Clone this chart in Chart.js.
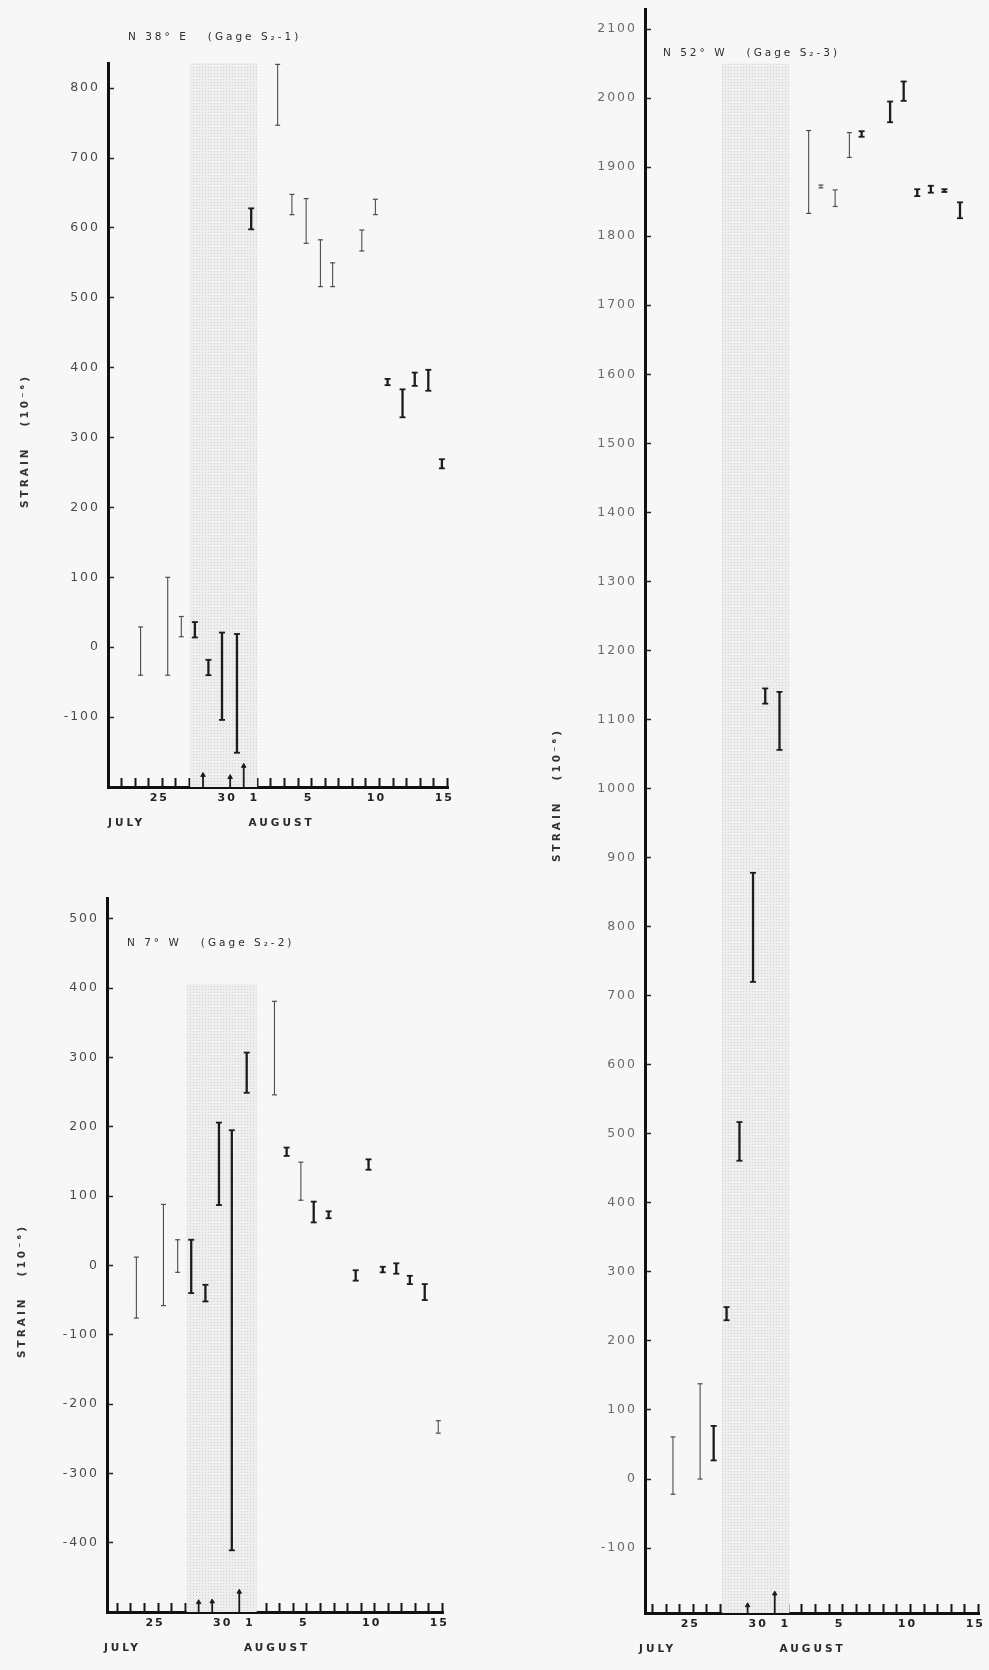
<!DOCTYPE html>
<html>
<head>
<meta charset="utf-8">
<script src="https://cdn.jsdelivr.net/npm/chart.js@4/dist/chart.umd.min.js"></script>
<style>
  html, body { margin: 0; padding: 0; background: #f7f7f7; }
  body { width: 989px; height: 1670px; position: relative; overflow: hidden; }
  canvas { position: absolute; }
</style>
</head>
<body>
<canvas id="g1" width="480" height="850" style="left:0;top:0"></canvas>
<canvas id="g2" width="480" height="820" style="left:0;top:850px"></canvas>
<canvas id="g3" width="469" height="1670" style="left:520px;top:0"></canvas>
<script>
// Days are counted from the start of July: 25 = July 25, 32 = August 1, 46 = August 15.
const dayTicks = [22, 23, 24, 25, 26, 27, 28, 29, 30, 31, 32, 33, 34, 35, 36, 37, 38, 39, 40, 41, 42, 43, 44, 45, 46];
const dayLabelAt = [25, 30, 32, 36, 41, 46];
const dayLabelText = ['25', '30', '1', '5', '10', '15'];
const monthNames = ['JULY', 'AUGUST'];
const monthStartDay = [21, 31.35];
const strainTitle = 'STRAIN   (10\u207B\u2076)';

// N 38° E (Gage S2-1): strain ranges, 10^-6
const g1ThinDay   = [23.4, 25.4, 26.4, 33.5, 34.55, 35.6, 36.65, 37.55, 39.7, 40.7];
const g1ThinLow   = [-40, -40, 15, 747, 619, 578, 516, 516, 567, 619];
const g1ThinHigh  = [29, 100, 44, 834, 648, 642, 583, 550, 597, 641];
const g1HeavyDay  = [27.4, 28.4, 29.4, 30.5, 31.55, 41.6, 42.7, 43.6, 44.6, 45.6];
const g1HeavyLow  = [14, -40, -104, -151, 598, 375, 329, 374, 367, 256];
const g1HeavyHigh = [36, -18, 21, 19, 628, 384, 369, 393, 397, 269];
const g1MarkDay   = [28, 30, 31];
const g1MarkTip   = [-183, -186, -170];
const g1YTicks    = [-100, 0, 100, 200, 300, 400, 500, 600, 700, 800];

// N 7° W (Gage S2-2)
const g2ThinDay   = [23.4, 25.4, 26.45, 33.6, 35.55, 45.7];
const g2ThinLow   = [-76, -58, -10, 246, 94, -242];
const g2ThinHigh  = [12, 88, 37, 381, 149, -224];
const g2HeavyDay  = [27.45, 28.5, 29.5, 30.45, 31.55, 34.5, 36.5, 37.6, 39.6, 40.55, 41.6, 42.6, 43.6, 44.7];
const g2HeavyLow  = [-40, -52, 87, -411, 249, 158, 62, 68, -22, 138, -10, -12, -27, -50];
const g2HeavyHigh = [37, -28, 206, 195, 307, 170, 92, 78, -7, 153, -2, 3, -15, -27];
const g2MarkDay   = [28, 29, 31];
const g2MarkTip   = [-486, -485, -471];
const g2YTicks    = [-400, -300, -200, -100, 0, 100, 200, 300, 400, 500];

// N 52° W (Gage S2-3)
const g3ThinDay   = [23.5, 25.5, 33.5, 34.4, 35.45, 36.5];
const g3ThinLow   = [-22, 0, 1833, 1870, 1843, 1914];
const g3ThinHigh  = [61, 138, 1953, 1874, 1867, 1950];
const g3HeavyDay  = [26.5, 27.45, 28.4, 29.4, 30.3, 31.35, 37.4, 39.5, 40.5, 41.5, 42.5, 43.5, 44.65];
const g3HeavyLow  = [27, 230, 461, 720, 1123, 1056, 1944, 1965, 1996, 1858, 1863, 1864, 1826];
const g3HeavyHigh = [77, 249, 517, 878, 1145, 1140, 1952, 1995, 2024, 1868, 1873, 1868, 1849];
const g3MarkDay   = [29, 31];
const g3MarkTip   = [-183, -166];
const g3YTicks    = [-100, 0, 100, 200, 300, 400, 500, 600, 700, 800, 900, 1000,
                     1100, 1200, 1300, 1400, 1500, 1600, 1700, 1800, 1900, 2000, 2100];

Chart.defaults.font.family = '"DejaVu Sans", sans-serif';

// Each range becomes a vertical segment; a null point breaks the line between ranges.
function rangeSegments(days, low, high) {
  const pts = [];
  days.forEach((d, i) => {
    pts.push({ x: d, y: low[i] }, { x: d, y: high[i] }, { x: d, y: null });
  });
  return pts;
}

// Short arrows standing on the date axis.
function arrowSegments(days, tips, base) {
  const pts = [];
  days.forEach((d, i) => {
    pts.push({ x: d, y: base }, { x: d, y: tips[i], tip: true }, { x: d, y: null });
  });
  return pts;
}

function dotPattern(canvas) {
  const tile = document.createElement('canvas');
  tile.width = 3; tile.height = 3;
  const t = tile.getContext('2d');
  t.fillStyle = '#eeeeee';
  t.fillRect(0, 0, 3, 3);
  t.fillStyle = '#d2d2d2';
  t.fillRect(1, 1, 1, 1);
  return canvas.getContext('2d').createPattern(tile, 'repeat');
}

// The plot box is fixed by the layout padding and axis sizes alone.
function noLabelOverhang(s) {
  s.paddingTop = 0; s.paddingBottom = 0; s.paddingLeft = 0; s.paddingRight = 0;
}

const letterSpacing = {
  id: 'letterSpacing',
  beforeDraw(chart) { chart.ctx.letterSpacing = '2px'; }
};

const panelText = {
  id: 'panelText',
  afterDraw(chart, args, opts) {
    const { ctx, chartArea } = chart;
    const x = chart.scales.x;
    ctx.save();
    ctx.letterSpacing = '3px';
    ctx.fillStyle = '#2e2e2e';
    ctx.textBaseline = 'middle';
    ctx.textAlign = 'left';
    ctx.font = '10.5px "DejaVu Sans"';
    ctx.fillText(opts.heading, chartArea.left + opts.headingDx, chartArea.top + opts.headingDy);
    ctx.font = 'bold 10.5px "DejaVu Sans"';
    ctx.fillStyle = '#2a2a2a';
    monthNames.forEach((m, i) => {
      ctx.fillText(m, x.getPixelForValue(monthStartDay[i]), chartArea.bottom + 36);
    });
    ctx.translate(opts.titleX, opts.titleY);
    ctx.rotate(-Math.PI / 2);
    ctx.textAlign = 'center';
    ctx.font = 'bold 10.5px "DejaVu Sans"';
    ctx.fillStyle = '#333333';
    ctx.fillText(strainTitle, 0, 0);
    ctx.restore();
  }
};

function strainPanel(id, p) {
  const canvas = document.getElementById(id);
  return new Chart(canvas, {
    type: 'line',
    data: {
      datasets: [
        {
          label: 'shaded period',
          data: [{ x: p.shade[0], y: p.shadeTop }, { x: p.shade[1], y: p.shadeTop }],
          fill: 'start',
          backgroundColor: dotPattern(canvas),
          borderWidth: 0,
          pointRadius: 0,
          clip: false,
          order: 10
        },
        {
          label: 'range',
          data: rangeSegments(p.thinDay, p.thinLow, p.thinHigh),
          borderColor: '#4d4d4d',
          borderWidth: 1.1,
          spanGaps: false,
          pointStyle: 'line',
          pointRadius: 2.5,
          pointBorderWidth: 1.2,
          pointBorderColor: '#4d4d4d',
          order: 2
        },
        {
          label: 'range (heavy)',
          data: rangeSegments(p.heavyDay, p.heavyLow, p.heavyHigh),
          borderColor: '#1c1c1c',
          borderWidth: 2.3,
          spanGaps: false,
          pointStyle: 'line',
          pointRadius: 3,
          pointBorderWidth: 1.8,
          pointBorderColor: '#1c1c1c',
          order: 1
        },
        {
          label: 'events',
          data: arrowSegments(p.markDay, p.markTip, p.yMin),
          borderColor: '#1c1c1c',
          borderWidth: 1.8,
          spanGaps: false,
          pointStyle: 'triangle',
          pointRadius: c => (c.raw && c.raw.tip ? 2.6 : 0),
          pointBackgroundColor: '#1c1c1c',
          pointBorderColor: '#1c1c1c',
          pointBorderWidth: 1,
          order: 0
        }
      ]
    },
    options: {
      responsive: false,
      animation: false,
      devicePixelRatio: 1,
      layout: { padding: { top: p.padTop, right: p.padRight, left: 0, bottom: 0 } },
      plugins: {
        legend: { display: false },
        tooltip: { enabled: false },
        panelText: {
          heading: p.heading, headingDx: p.headingDx, headingDy: p.headingDy,
          titleX: p.titleX, titleY: p.titleY
        }
      },
      scales: {
        x: {
          type: 'linear',
          min: p.xMin,
          max: 46.05,
          afterBuildTicks: s => { s.ticks = dayTicks.map(v => ({ value: v })); },
          afterFit: s => { s.height = p.xHeight; noLabelOverhang(s); },
          border: { display: true, color: '#111111', width: 3 },
          grid: {
            drawOnChartArea: false,
            drawTicks: true,
            tickLength: -9,
            tickWidth: 2,
            tickColor: '#151515',
            color: '#151515'
          },
          ticks: {
            autoSkip: false,
            maxRotation: 0,
            minRotation: 0,
            padding: 14,
            labelOffset: -3,
            color: '#222222',
            font: { size: 11, weight: 'bold' },
            callback: v => {
              const i = dayLabelAt.indexOf(v);
              return i >= 0 ? dayLabelText[i] : '';
            }
          }
        },
        y: {
          type: 'linear',
          min: p.yMin,
          max: p.yMax,
          afterBuildTicks: s => { s.ticks = p.yTicks.map(v => ({ value: v })); },
          afterFit: s => { s.width = p.yWidth; noLabelOverhang(s); },
          border: { display: true, color: '#111111', width: 3 },
          grid: {
            drawOnChartArea: false,
            drawTicks: true,
            tickLength: -6,
            tickWidth: 1.5,
            tickColor: '#222222',
            color: '#222222'
          },
          ticks: {
            autoSkip: false,
            padding: 14,
            color: p.yTickColor,
            font: { size: 12.5 },
            callback: v => String(v)
          }
        }
      }
    },
    plugins: [letterSpacing, panelText]
  });
}

strainPanel('g1', {
  thinDay: g1ThinDay, thinLow: g1ThinLow, thinHigh: g1ThinHigh,
  heavyDay: g1HeavyDay, heavyLow: g1HeavyLow, heavyHigh: g1HeavyHigh,
  markDay: g1MarkDay, markTip: g1MarkTip, yTicks: g1YTicks,
  shade: [27.05, 32], shadeTop: 847,
  xMin: 21, yMin: -200, yMax: 836,
  padTop: 63, padRight: 32, yWidth: 108, xHeight: 63,
  heading: 'N 38\u00B0 E   (Gage S\u2082-1)', headingDx: 20, headingDy: -26,
  titleX: 25, titleY: 441, yTickColor: '#4a4a4a'
});

strainPanel('g2', {
  thinDay: g2ThinDay, thinLow: g2ThinLow, thinHigh: g2ThinHigh,
  heavyDay: g2HeavyDay, heavyLow: g2HeavyLow, heavyHigh: g2HeavyHigh,
  markDay: g2MarkDay, markTip: g2MarkTip, yTicks: g2YTicks,
  shade: [27.1, 32.3], shadeTop: 406,
  xMin: 21.23, yMin: -500, yMax: 530,
  padTop: 48, padRight: 37, yWidth: 107, xHeight: 58,
  heading: 'N 7\u00B0 W   (Gage S\u2082-2)', headingDx: 20, headingDy: 45,
  titleX: 22, titleY: 441, yTickColor: '#4a4a4a'
});

strainPanel('g3', {
  thinDay: g3ThinDay, thinLow: g3ThinLow, thinHigh: g3ThinHigh,
  heavyDay: g3HeavyDay, heavyLow: g3HeavyLow, heavyHigh: g3HeavyHigh,
  markDay: g3MarkDay, markTip: g3MarkTip, yTicks: g3YTicks,
  shade: [27.1, 32.1], shadeTop: 2050,
  xMin: 21.44, yMin: -194, yMax: 2129,
  padTop: 9, padRight: 10, yWidth: 125, xHeight: 57,
  heading: 'N 52\u00B0 W   (Gage S\u2082-3)', headingDx: 18, headingDy: 44,
  titleX: 37, titleY: 795, yTickColor: '#6a6a6a'
});
</script>
</body>
</html>
